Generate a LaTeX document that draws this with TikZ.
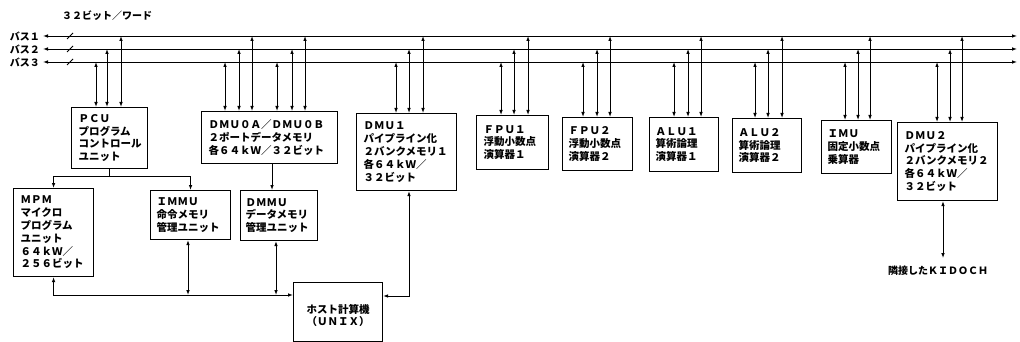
\documentclass[tikz,border=0pt]{standalone}
\usepackage{fontspec}
\setmainfont{Noto Sans CJK JP}
\usetikzlibrary{arrows.meta,positioning}

\tikzset{
  blk/.style={draw, line width=1.1pt, anchor=north west, inner xsep=7pt, inner ysep=0pt,
    align=left, font=\fontsize{10.5}{12.8}\selectfont\bfseries},
  bidir/.style={line width=0.9pt, {Latex[length=5pt,width=3.6pt]}-{Latex[length=5pt,width=3.6pt]}},
  uni/.style={line width=0.9pt, -{Latex[length=5pt,width=3.6pt]}},
  buslbl/.style={anchor=east, inner sep=0pt, font=\fontsize{10}{12}\selectfont\bfseries}
}

\begin{document}
\begin{tikzpicture}[x=1pt,y=-1pt]
  \useasboundingbox (0,0) rectangle (1020,342);
  % buses
  \coordinate (b1) at (43,36); \coordinate (b2) at (43,49); \coordinate (b3) at (43,62);
  \foreach \i in {1,2,3} {
    \coordinate (e\i) at (1017,0 |- b\i);
    \draw[bidir] (b\i) -- (e\i);
    \draw[line width=0.8pt] ([shift={(24,3)}]b\i) -- ++(6,-6);
    \node[buslbl] (lbl\i) at ([xshift=-3pt]b\i) {バス\ifcase\i\or １\or ２\or ３\fi};
  }
  \node[anchor=west, inner sep=0pt, font=\fontsize{10}{12}\selectfont\bfseries] (width) at (62,16) {３２ビット／ワード};

  % units on the buses
  \node[blk, minimum width=76, minimum height=61, text width=62] (pcu) at (71,107)
    {ＰＣＵ\\プログラム\\コントロール\\ユニット};
  \node[blk, minimum width=136, minimum height=52, text width=122] (dmu0) at (201,111)
    {ＤＭＵ０Ａ／ＤＭＵ０Ｂ\\２ポートデータメモリ\\各６４ｋＷ／３２ビット};
  \node[blk, minimum width=100, minimum height=77, text width=86] (dmu1) at (356,113)
    {ＤＭＵ１\\パイプライン化\\２バンクメモリ１\\各６４ｋＷ／\\３２ビット};
  \node[blk, minimum width=72, minimum height=54, text width=58, inner xsep=6pt] (fpu1) at (476,115)
    {ＦＰＵ１\\浮動小数点\\演算器１};
  \node[blk, minimum width=70, minimum height=53, text width=58, inner xsep=6pt] (fpu2) at (562,117)
    {ＦＰＵ２\\浮動小数点\\演算器２};
  \node[blk, minimum width=69, minimum height=54, text width=57, inner xsep=6pt] (alu1) at (649,117)
    {ＡＬＵ１\\算術論理\\演算器１};
  \node[blk, minimum width=69, minimum height=54, text width=57, inner xsep=6pt] (alu2) at (732,118)
    {ＡＬＵ２\\算術論理\\演算器２};
  \node[blk, minimum width=70, minimum height=53, text width=58, inner xsep=6pt] (imu) at (821,120)
    {ＩＭＵ\\固定小数点\\乗算器};
  \node[blk, minimum width=100, minimum height=78, text width=86] (dmu2) at (897,122)
    {ＤＭＵ２\\パイプライン化\\２バンクメモリ２\\各６４ｋＷ／\\３２ビット};

  % bus connections (left one to bus 3, middle to bus 2, right to bus 1)
  \foreach \bx/\xa/\xb/\xc in {pcu/96/107/121, dmu0/225/239/252, dmu0/277/292/305,
      dmu1/396/409/423, fpu1/501/514/528, fpu2/583/597/610, alu1/674/688/701,
      alu2/755/768/782, imu/845/858/870, dmu2/937/950/962} {
    \draw[bidir] (\xa,0 |- \bx.north) -- (\xa,0 |- b3);
    \draw[bidir] (\xb,0 |- \bx.north) -- (\xb,0 |- b2);
    \draw[bidir] (\xc,0 |- \bx.north) -- (\xc,0 |- b1);
  }

  % lower units
  \node[blk, minimum width=80, minimum height=88, text width=66] (mpm) at (13,188)
    {ＭＰＭ\\マイクロ\\プログラム\\ユニット\\６４ｋＷ／\\２５６ビット};
  \node[blk, minimum width=80, minimum height=49, text width=68, inner xsep=6pt] (immu) at (150,190)
    {ＩＭＭＵ\\命令メモリ\\管理ユニット};
  \node[blk, minimum width=77, minimum height=50, text width=67, inner xsep=5pt] (dmmu) at (240,190)
    {ＤＭＭＵ\\データメモリ\\管理ユニット};
  \node[blk, minimum width=89, minimum height=59, text width=79, inner xsep=5pt, align=center] (host) at (293,282)
    {\rule{0pt}{16pt}ホスト計算機\\（ＵＮＩＸ）};
  \node[inner sep=0pt, font=\fontsize{10}{12}\selectfont\bfseries] (kidoch) at (938,271) {隣接したＫＩＤＯＣＨ};

  % control and host links
  \draw[uni] (pcu.south) -- ++(0,7) coordinate (split) -| (mpm.north);
  \draw[uni] (split) -| (immu.north);
  \draw[uni] (272,0 |- dmu0.south) -- (272,0 |- dmmu.north);
  \coordinate (hl) at (host.west |- 0,295);
  \draw[bidir] (mpm.south) |- (hl);
  \draw[bidir] (188,0 |- immu.south) -- (188,295);
  \draw[bidir] (276,0 |- dmmu.south) -- (276,295);
  \draw[bidir] (409,0 |- dmu1.south) |- (host.east |- 0,296);
  \draw[bidir, shorten >=8pt] (943,0 |- dmu2.south) -- (943,0 |- kidoch.north);
\end{tikzpicture}
\end{document}
